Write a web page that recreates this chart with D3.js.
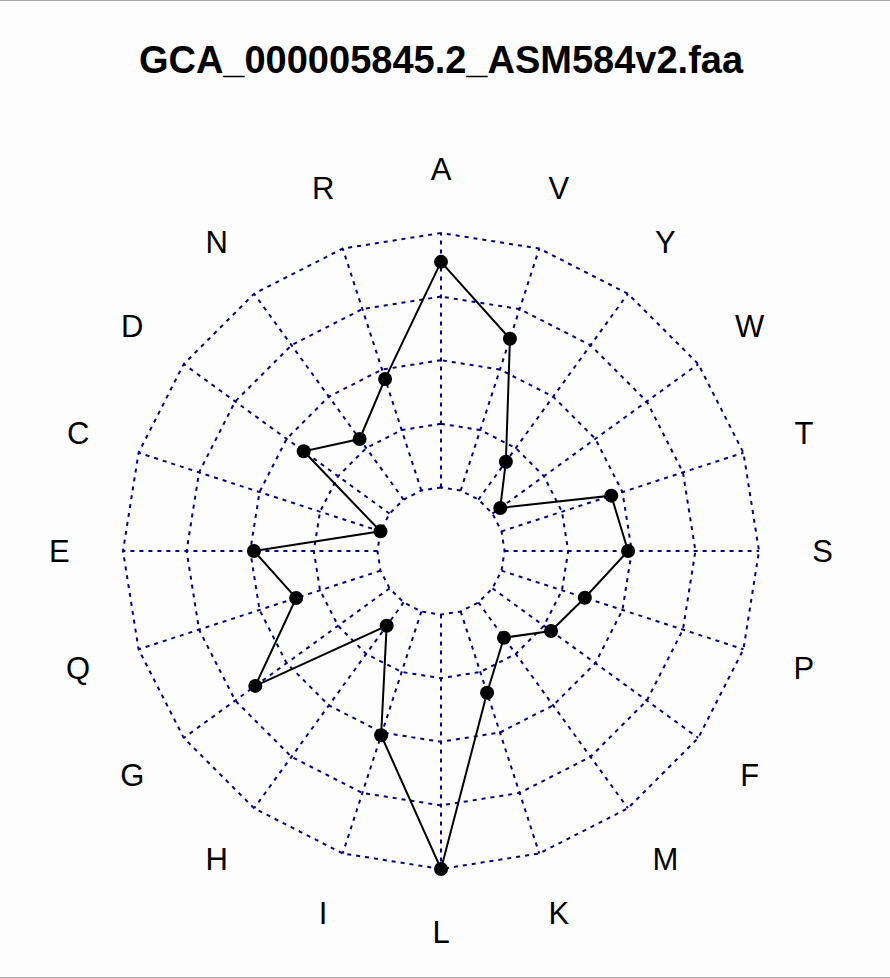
<!DOCTYPE html>
<html><head><meta charset="utf-8">
<script src="https://cdn.jsdelivr.net/npm/d3@7"></script>
<style>html,body{margin:0;padding:0;background:#fff;}svg{display:block;}</style>
</head><body>
<script>
const title = "GCA_000005845.2_ASM584v2.faa";
const aminoAcids = ["A","R","N","D","C","E","Q","G","H","I","L","K","M","F","P","S","T","W","Y","V"];
const composition = [9.60,5.55,3.96,5.13,1.16,5.78,4.48,7.37,2.24,6.03,10.68,4.36,2.79,3.87,4.44,5.78,5.48,1.52,2.91,7.13];
const segments = 4;

const W = 890, H = 978, cx = 441, cy = 551, R = 318;
const svg = d3.select("body").append("svg").attr("width", W).attr("height", H);
svg.append("rect").attr("width", W).attr("height", H).attr("fill", "#fdfdfd");
svg.append("line").attr("x1",0).attr("x2",W).attr("y1",0.5).attr("y2",0.5).attr("stroke","#a8a8a8");
svg.append("line").attr("x1",0).attr("x2",W).attr("y1",H-0.5).attr("y2",H-0.5).attr("stroke","#a8a8a8");

const n = aminoAcids.length;
const ang = d3.scaleLinear().domain([0, n]).range([Math.PI/2, Math.PI/2 + 2*Math.PI]);
const rScale = d3.scaleLinear().domain([d3.min(composition), d3.max(composition)]).range([R/(segments+1), R]);
const px = (i, r) => cx + r*Math.cos(ang(i));
const py = (i, r) => cy - r*Math.sin(ang(i));

const grid = svg.append("g").attr("fill","none").attr("stroke","#000080").attr("stroke-width",2).attr("stroke-dasharray","4,5");
d3.range(segments+1).forEach(s => {
  const r = R*(s+1)/(segments+1);
  grid.append("path").attr("d", d3.line()(d3.range(n+1).map(i => [px(i%n, r), py(i%n, r)])));
});
d3.range(n).forEach(i => {
  grid.append("line").attr("x1", px(i, R/(segments+1))).attr("y1", py(i, R/(segments+1)))
    .attr("x2", px(i, R)).attr("y2", py(i, R));
});

const pts = composition.map((v,i) => [px(i, rScale(v)), py(i, rScale(v))]);
svg.append("path").attr("d", d3.line()(pts.concat([pts[0]]))).attr("fill","none").attr("stroke","#000").attr("stroke-width",2);
svg.selectAll("circle.pt").data(pts).join("circle").attr("class","pt")
  .attr("cx", d=>d[0]).attr("cy", d=>d[1]).attr("r", 7).attr("fill","#000");

svg.selectAll("text.lab").data(aminoAcids).join("text").attr("class","lab")
  .attr("x", (d,i)=>px(i, 1.2*R)).attr("y", (d,i)=>py(i, 1.2*R))
  .attr("text-anchor","middle").attr("dominant-baseline","central")
  .attr("font-family","'Liberation Sans', Arial, sans-serif").attr("font-size",31).attr("fill","#000")
  .text(d=>d);

svg.append("text").attr("x", cx).attr("y", 73).attr("text-anchor","middle")
  .attr("font-family","'Liberation Sans', Arial, sans-serif").attr("font-weight","bold").attr("font-size",38)
  .text(title);
</script>
</body></html>
